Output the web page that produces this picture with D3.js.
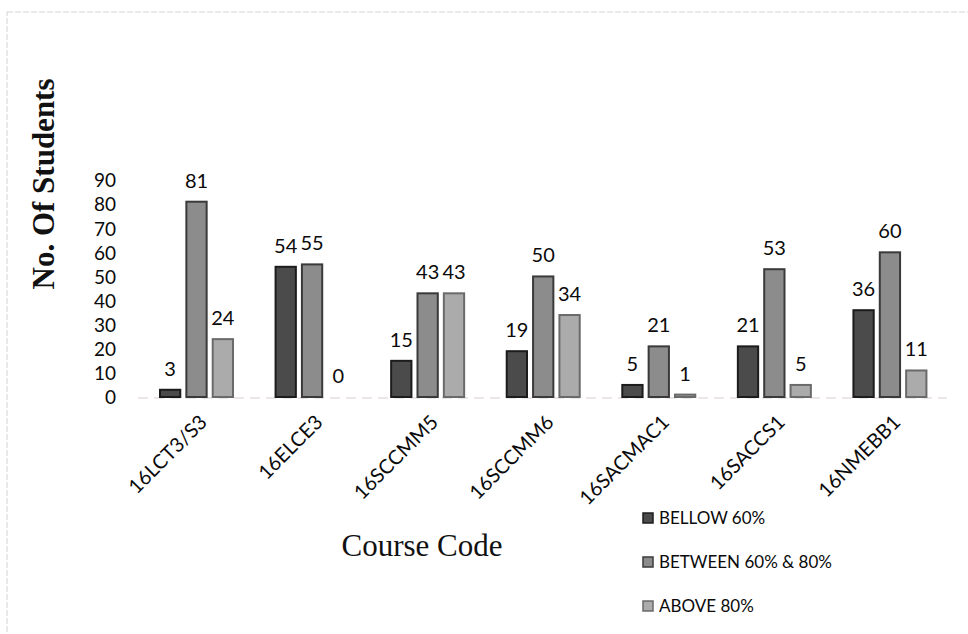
<!DOCTYPE html>
<html>
<meta charset="utf-8">
<style>
body { margin: 0; background: #fff; }
svg { display: block; }
.tick-label, .val, .xlab, .legend text { font-family: Lato, "Open Sans", sans-serif; fill: #0a0a0a; }
</style>
<body>
<script src="https://d3js.org/d3.v7.min.js"></script>
<script>
// data
var courses = ["16LCT3/S3", "16ELCE3", "16SCCMM5", "16SCCMM6", "16SACMAC1", "16SACCS1", "16NMEBB1"];
var seriesNames = ["BELLOW 60%", "BETWEEN 60% & 80%", "ABOVE 80%"];
var bellow = [3, 54, 15, 19, 5, 21, 36];
var between = [81, 55, 43, 50, 21, 53, 60];
var above = [24, 0, 43, 34, 1, 5, 11];
var yTicks = [0, 10, 20, 30, 40, 50, 60, 70, 80, 90];

var fills = ["#4b4b4b", "#8c8c8c", "#ababab"];
var strokes = ["#1c1c1c", "#3a3a3a", "#6a6a6a"];

var W = 968, H = 634;
var svg = d3.select("body").append("svg")
	.attr("width", W)
	.attr("height", H);

// faint frame of the scanned page
svg.append("rect")
	.attr("x", 7).attr("y", 12)
	.attr("width", W + 20).attr("height", H + 20)
	.style("fill", "none")
	.style("stroke", "#d9d2d2")
	.style("stroke-width", 1)
	.style("stroke-dasharray", "6 2");

var x0 = d3.scaleBand().domain(courses).range([138, 947]).padding(0);
var x1 = d3.scaleBand().domain(d3.range(3)).range([22, 95]).paddingInner(0.23);
var y = d3.scaleLinear().domain([0, 90]).range([397, 180]);

var rows = courses.map(function(c, i) {
	return { course: c, vals: [bellow[i], between[i], above[i]] };
});

// baseline
svg.append("line")
	.attr("x1", x0.range()[0]).attr("x2", x0.range()[1])
	.attr("y1", y(0) + 1).attr("y2", y(0) + 1)
	.style("stroke", "#e6dede")
	.style("stroke-width", 1.5)
	.style("stroke-dasharray", "10 6");

// y axis, labels only
var yAxis = d3.axisLeft(y).tickValues(yTicks).tickSize(0).tickPadding(0);
var gy = svg.append("g")
	.attr("transform", "translate(116,0)")
	.call(yAxis);
gy.select(".domain").remove();
gy.selectAll("text")
	.attr("class", "tick-label")
	.style("font-size", "19px")
	.attr("dy", "0.36em");

// bars
var groups = svg.append("g").selectAll("g")
	.data(rows)
	.join("g")
	.attr("transform", function(d) { return "translate(" + x0(d.course) + ",0)"; });

groups.selectAll("rect")
	.data(function(d) { return d.vals.map(function(v, k) { return { k: k, v: v }; }); })
	.join("rect")
	.attr("x", function(d) { return x1(d.k); })
	.attr("y", function(d) { return y(d.v); })
	.attr("width", x1.bandwidth())
	.attr("height", function(d) { return y(0) - y(d.v); })
	.style("fill", function(d) { return fills[d.k]; })
	.style("stroke", function(d) { return strokes[d.k]; })
	.style("stroke-width", 2);

groups.selectAll("text")
	.data(function(d) { return d.vals.map(function(v, k) { return { k: k, v: v }; }); })
	.join("text")
	.attr("class", "val")
	.attr("x", function(d) { return x1(d.k) + x1.bandwidth() / 2; })
	.attr("y", function(d) { return y(d.v) - 14; })
	.attr("text-anchor", "middle")
	.style("font-size", "20px")
	.text(function(d) { return d.v; });

// x axis labels, rotated
var xAxis = d3.axisBottom(x0).tickSize(0).tickPadding(0);
var gx = svg.append("g")
	.attr("transform", "translate(0," + (y(0) + 18) + ")")
	.call(xAxis);
gx.select(".domain").remove();
gx.selectAll("text")
	.attr("class", "xlab")
	.style("font-size", "20px")
	.attr("text-anchor", "end")
	.attr("dy", "0.6em")
	.attr("transform", "translate(4,0) rotate(-45)");

// axis titles
svg.append("text")
	.attr("x", 422)
	.attr("y", 556)
	.attr("text-anchor", "middle")
	.style("font-family", "'Liberation Serif', 'Times New Roman', serif")
	.style("font-size", "31px")
	.style("fill", "#111")
	.text("Course Code");

svg.append("text")
	.attr("transform", "translate(54,184) rotate(-90)")
	.attr("text-anchor", "middle")
	.style("font-family", "'Liberation Serif', 'Times New Roman', serif")
	.style("font-size", "31px")
	.style("font-weight", "bold")
	.style("fill", "#111")
	.text("No. Of Students");

// legend
var legend = svg.append("g").attr("class", "legend")
	.selectAll("g")
	.data(seriesNames)
	.join("g")
	.attr("transform", function(d, i) { return "translate(643," + (518 + i * 44) + ")"; });

legend.append("rect")
	.attr("x", 0).attr("y", -5)
	.attr("width", 10).attr("height", 10)
	.style("fill", function(d, i) { return fills[i]; })
	.style("stroke", function(d, i) { return strokes[i]; })
	.style("stroke-width", 1.5);

legend.append("text")
	.attr("x", 16)
	.attr("dy", "0.36em")
	.style("font-size", "17px")
	.text(function(d) { return d; });
</script>
</body>
</html>
